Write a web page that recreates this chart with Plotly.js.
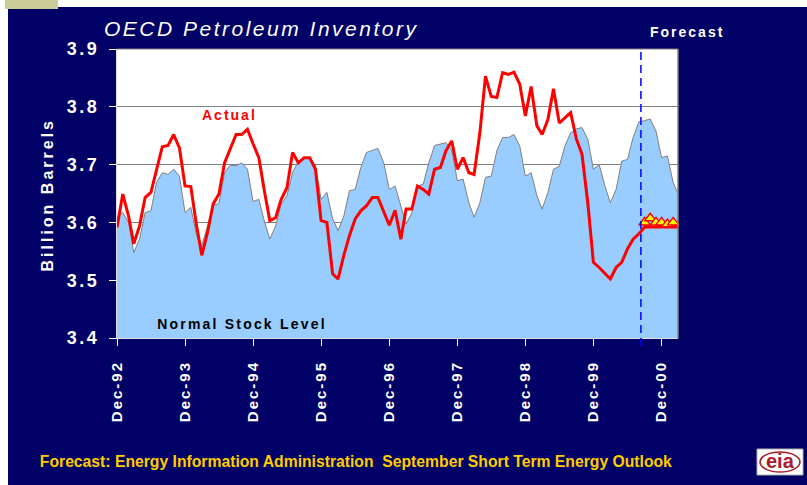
<!DOCTYPE html>
<html>
<head>
<meta charset="utf-8">
<script src="https://cdn.plot.ly/plotly-3.0.1.min.js"></script>
<style>
html, body { margin: 0; padding: 0; background: #ffffff; }
#chart { width: 807px; height: 485px; }
#chart .xtick text { letter-spacing: 2px; }
#chart .ytick text { letter-spacing: 2.5px; }
#chart .gtitle { letter-spacing: 2.5px; }
#chart .annotation[data-index="0"] text { letter-spacing: 2px; }
#chart .annotation[data-index="1"] text { letter-spacing: 2px; }
#chart .annotation[data-index="2"] text { letter-spacing: 2.2px; }
#chart .annotation[data-index="3"] text { letter-spacing: 3px; }
</style>
</head>
<body>
<div id="chart"></div>
<script>
// ---- data (monthly, starting Dec-1992) ----
const startYear = 1992, startMonthIndex = 11; // December 1992
const normalStock = [
  3.610, 3.617, 3.600, 3.548, 3.571, 3.617, 3.620, 3.669, 3.686, 3.683, 3.692, 3.680,
  3.617, 3.626, 3.577, 3.560, 3.594, 3.630, 3.632, 3.686, 3.699, 3.698, 3.703, 3.692,
  3.636, 3.640, 3.600, 3.571, 3.594, 3.632, 3.646, 3.686, 3.706, 3.712, 3.712, 3.698,
  3.640, 3.652, 3.606, 3.586, 3.611, 3.655, 3.657, 3.695, 3.721, 3.724, 3.728, 3.703,
  3.657, 3.663, 3.629, 3.597, 3.617, 3.663, 3.666, 3.703, 3.733, 3.735, 3.738, 3.726,
  3.672, 3.675, 3.634, 3.609, 3.634, 3.678, 3.680, 3.724, 3.747, 3.747, 3.752, 3.732,
  3.680, 3.686, 3.646, 3.623, 3.652, 3.692, 3.697, 3.732, 3.755, 3.762, 3.764, 3.744,
  3.692, 3.700, 3.663, 3.634, 3.657, 3.706, 3.709, 3.747, 3.774, 3.776, 3.779, 3.758,
  3.712, 3.715, 3.669, 3.649
];
const actualStock = [
  3.591, 3.649, 3.611, 3.563, 3.594, 3.643, 3.652, 3.692, 3.731, 3.733, 3.752, 3.729,
  3.663, 3.662, 3.594, 3.543, 3.583, 3.632, 3.649, 3.703, 3.729, 3.752, 3.752, 3.761,
  3.736, 3.712, 3.652, 3.603, 3.608, 3.640, 3.660, 3.721, 3.703, 3.712, 3.712, 3.692,
  3.603, 3.600, 3.511, 3.502, 3.543, 3.577, 3.606, 3.620, 3.629, 3.643, 3.643, 3.617,
  3.595, 3.621, 3.571, 3.623, 3.623, 3.663, 3.657, 3.649, 3.692, 3.695, 3.724, 3.741,
  3.692, 3.712, 3.686, 3.683, 3.755, 3.853, 3.818, 3.816, 3.859, 3.856, 3.860, 3.839,
  3.784, 3.835, 3.767, 3.752, 3.778, 3.831, 3.772, 3.781, 3.790, 3.744, 3.718, 3.634,
  3.531, 3.522, 3.511, 3.502, 3.522, 3.531, 3.554, 3.571, 3.580
];
const forecastLine = [3.580, 3.592, 3.592, 3.592, 3.592, 3.592, 3.592, 3.592];
const forecastMarkers = [3.600, 3.607, 3.600, 3.600, 3.597, 3.600, 3.607];
const tickLabels = ['Dec-92','Dec-93','Dec-94','Dec-95','Dec-96','Dec-97','Dec-98','Dec-99','Dec-00'];
const tickDates = ['1992-12-01','1993-12-01','1994-12-01','1995-12-01','1996-12-01','1997-12-01','1998-12-01','1999-12-01','2000-12-01'];
const yTicks = [3.4, 3.5, 3.6, 3.7, 3.8, 3.9];
const yTickLabels = ['3.4', '3.5', '3.6', '3.7', '3.8', '3.9'];
const forecastStart = '2000-08-12';

// month axis positions
function monthDate(i) {
  const d = new Date(Date.UTC(startYear, startMonthIndex + i, 1));
  return d.toISOString().slice(0, 10);
}
const months = normalStock.map((_, i) => monthDate(i));
const actualX = months.slice(0, actualStock.length);
const fcLineX = months.slice(actualStock.length - 1, actualStock.length - 1 + forecastLine.length);
const fcMarkX = months.slice(actualStock.length, actualStock.length + forecastMarkers.length);

// layout helpers: pixel -> paper coordinates
const L = 117, R = 678, T = 49, B = 338, W = 807, H = 485;
const px = v => (v - L) / (R - L);
const py = v => (B - v) / (B - T);

const FONT = 'Liberation Sans, Arial, sans-serif';

const traces = [
  { x: months, y: normalStock, type: 'scatter', mode: 'lines', fill: 'tozeroy',
    fillcolor: '#99CCFF', line: { color: '#808080', width: 1 }, name: 'Normal Stock Level' },
  { x: actualX, y: actualStock, type: 'scatter', mode: 'lines',
    line: { color: '#FF0000', width: 3 }, name: 'Actual' },
  { x: fcLineX, y: forecastLine, type: 'scatter', mode: 'lines',
    line: { color: '#FF0000', width: 3 }, name: 'Forecast' },
  { x: fcMarkX, y: forecastMarkers, type: 'scatter', mode: 'markers', cliponaxis: false,
    marker: { symbol: 'triangle-up', size: 10, color: '#FFFF00', line: { color: '#FF0000', width: 1.5 } },
    name: 'Forecast points' }
];

const layout = {
  width: W, height: H,
  margin: { l: L, r: W - R, t: T, b: H - B, pad: 0 },
  paper_bgcolor: '#000066',
  plot_bgcolor: '#FFFFFF',
  showlegend: false,
  hovermode: false,
  title: {
    text: 'OECD Petroleum Inventory',
    xref: 'container', yref: 'container',
    x: 104 / W, xanchor: 'left',
    y: 1 - 29 / H, yanchor: 'middle',
    font: { family: FONT, size: 21, color: '#FFFFFF', style: 'italic' }
  },
  xaxis: {
    type: 'date',
    range: ['1992-12-01', '2001-02-27'],
    tickmode: 'array', tickvals: tickDates, ticktext: tickLabels,
    tickangle: -90,
    ticks: 'outside', ticklen: 7, tickcolor: '#FFFFFF', tickwidth: 1,
    ticklabelstandoff: 9,
    tickfont: { family: FONT, size: 15, color: '#FFFFFF', weight: 'bold' },
    showgrid: false, zeroline: false,
    showline: true, linecolor: '#E0E0E0', linewidth: 1
  },
  yaxis: {
    range: [3.4, 3.9],
    tickmode: 'array', tickvals: yTicks, ticktext: yTickLabels,
    ticks: 'outside', ticklen: 7, tickcolor: '#FFFFFF', tickwidth: 1,
    ticklabelstandoff: 6,
    tickfont: { family: FONT, size: 18, color: '#FFFFFF', weight: 'bold' },
    showgrid: true, gridcolor: '#808080', gridwidth: 1, zeroline: false,
    showline: true, linecolor: '#E0E0E0', linewidth: 1
  },
  shapes: [
    // white page strips (left and top) and small khaki tab
    { type: 'rect', xref: 'paper', yref: 'paper', x0: px(0), x1: px(8), y0: py(H), y1: py(0),
      fillcolor: '#FFFFFF', line: { width: 0 }, layer: 'below' },
    { type: 'rect', xref: 'paper', yref: 'paper', x0: px(0), x1: px(W), y0: py(7), y1: py(0),
      fillcolor: '#FFFFFF', line: { width: 0 }, layer: 'below' },
    { type: 'rect', xref: 'paper', yref: 'paper', x0: px(5), x1: px(58), y0: py(9), y1: py(0),
      fillcolor: '#CCCC99', line: { width: 0 }, layer: 'below' },
    // plot frame top and right
    { type: 'line', xref: 'paper', yref: 'paper', x0: 0, x1: 1, y0: 1, y1: 1,
      line: { color: '#808080', width: 1 }, layer: 'above' },
    { type: 'line', xref: 'paper', yref: 'paper', x0: 1, x1: 1, y0: 0, y1: 1,
      line: { color: '#808080', width: 1.5 }, layer: 'above' },
    // forecast divider
    { type: 'line', xref: 'x', yref: 'paper', x0: forecastStart, x1: forecastStart, y0: py(346), y1: py(52),
      line: { color: '#0000FF', width: 1.5, dash: '8px,5px' }, layer: 'above' },
    // eia logo box and swoosh
    { type: 'rect', xref: 'paper', yref: 'paper', x0: px(757), x1: px(803), y0: py(475), y1: py(449),
      fillcolor: '#FFFFFF', line: { color: '#B0B0B0', width: 1 }, layer: 'below' },
    { type: 'circle', xref: 'paper', yref: 'paper', x0: px(760), x1: px(800), y0: py(472), y1: py(452),
      fillcolor: 'rgba(0,0,0,0)', line: { color: '#AA1A2A', width: 1.5 }, layer: 'above' }
  ],
  annotations: [
    { text: 'Forecast', xref: 'paper', yref: 'paper', x: px(687), y: py(32),
      xanchor: 'center', yanchor: 'middle', showarrow: false,
      font: { family: FONT, size: 14, color: '#FFFFFF', weight: 'bold' } },
    { text: 'Actual', xref: 'paper', yref: 'paper', x: px(229), y: py(115),
      xanchor: 'center', yanchor: 'middle', showarrow: false,
      font: { family: FONT, size: 14, color: '#FF0000', weight: 'bold' } },
    { text: 'Normal Stock Level', xref: 'paper', yref: 'paper', x: px(242), y: py(324),
      xanchor: 'center', yanchor: 'middle', showarrow: false,
      font: { family: FONT, size: 14, color: '#000000', weight: 'bold' } },
    { text: 'Billion Barrels', xref: 'paper', yref: 'paper', x: px(47), y: py(195),
      xanchor: 'center', yanchor: 'middle', showarrow: false, textangle: -90,
      font: { family: FONT, size: 16, color: '#FFFFFF', weight: 'bold' } },
    { text: 'Forecast: Energy Information Administration  September Short Term Energy Outlook',
      xref: 'paper', yref: 'paper', x: px(356), y: py(461),
      xanchor: 'center', yanchor: 'middle', showarrow: false,
      font: { family: FONT, size: 16, color: '#FFCC00', weight: 'bold' } },
    { text: 'eia', xref: 'paper', yref: 'paper', x: px(780), y: py(461),
      xanchor: 'center', yanchor: 'middle', showarrow: false,
      font: { family: FONT, size: 20, color: '#AA1A2A', weight: 'bold' } }
  ]
};

Plotly.newPlot('chart', traces, layout, { displayModeBar: false, staticPlot: true }).then(gd => {
  // condense the footer line to the narrow width used in the original
  const t = gd.querySelector('.annotation[data-index="4"] text.annotation-text');
  if (t) {
    t.setAttribute('textLength', '632');
    t.setAttribute('lengthAdjust', 'spacingAndGlyphs');
  }
});
</script>
</body>
</html>
